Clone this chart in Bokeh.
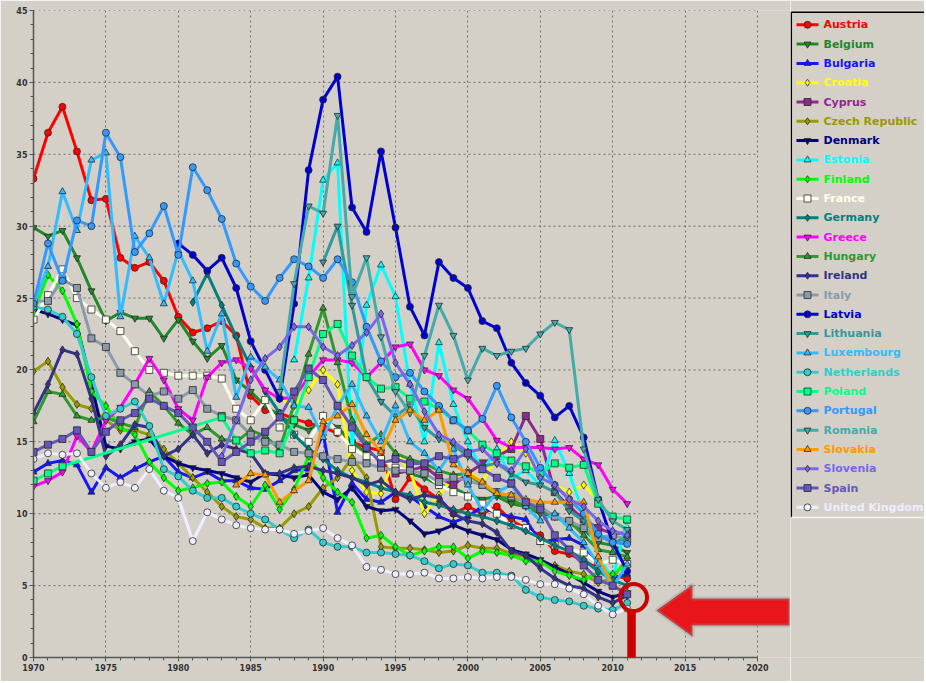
from bokeh.plotting import figure
from bokeh.models import (Range1d, SingleIntervalTicker, ColumnDataSource,
                          PolyAnnotation, Label)
from bokeh.layouts import row
from bokeh.core.properties import value
from bokeh.embed import file_html
from bokeh.resources import INLINE

FULL = list(range(1970, 2012))

austria = [33.3, 36.5, 38.3, 35.2, 31.8, 31.9, 27.8, 27.1, 27.5, 26.2,
           23.7, 22.6, 22.9, 23.4, 22.4, 18.2, 17.2, 17.0, 16.6, 16.3,
           16.0, 15.6, 15.0, 14.6, 14.4, 11.0, 12.5, 11.7, 11.0, 10.0,
           10.5, 10.0, 10.5, 9.5, 9.0, 8.5, 7.4, 7.2, 6.7, 6.2, 5.7, 5.5]
belgium = [29.9, 29.3, 29.7, 27.8, 25.5, 23.4, 24.0, 23.6, 23.6, 22.2,
           23.5, 22.0, 20.8, 21.7, 19.3, 18.5, 17.5, 16.8, 16.2, 15.8,
           16.5, 16.0, 15.0, 14.2, 13.8, 13.2, 12.8, 12.5, 12.0, 11.8,
           11.3, 11.0, 11.2, 10.7, 10.5, 10.0, 9.8, 9.3, 8.9, 8.0, 7.8, 7.3]
bulgaria = [12.9, 13.5, 13.7, 13.4, 11.5, 13.2, 12.5, 13.1, 13.6, 14.0,
            12.9, 12.5, 12.9, 12.3, 12.3, 11.8, 11.7, 12.3, 13.0, 13.1,
            15.6, 10.1, 12.1, 11.0, 10.8, 11.5, 11.2, 10.5, 9.8, 9.4,
            9.8, 10.5, 10.0, 9.8, 9.6, 8.0, 8.2, 8.3, 7.8, 6.5, 5.5, 5.8]
croatia_years = list(range(1987, 2012))
croatia = [18.0, 17.5, 18.6, 20.0, 19.0, 13.0, 11.5, 11.4, 14.2, 13.0,
           10.0, 11.3, 12.5, 13.0, 12.2, 14.0, 15.0, 14.2, 12.5, 12.0,
           11.5, 12.0, 11.0, 9.5, 9.0]
cyprus_years = list(range(1995, 2012))
cyprus = [12.8, 13.0, 13.3, 12.5, 12.0, 12.8, 13.5, 14.0, 14.5, 16.8,
          15.2, 11.5, 10.5, 9.6, 9.0, 8.6, 8.7]
czech = [19.9, 20.6, 18.8, 17.6, 17.3, 16.5, 15.8, 15.8, 15.5, 14.5,
         13.5, 12.5, 11.5, 10.5, 9.8, 9.6, 9.0, 9.0, 10.0, 10.5,
         11.8, 12.5, 13.9, 12.5, 7.7, 7.6, 7.6, 7.5, 7.3, 7.4,
         7.8, 7.6, 7.6, 7.2, 7.0, 6.5, 6.4, 6.0, 5.8, 5.2, 5.5, 6.9]
denmark = [24.2, 23.9, 23.5, 23.1, 19.0, 14.7, 14.5, 15.0, 15.2, 14.0,
           13.5, 13.2, 13.0, 12.8, 12.5, 12.2, 12.8, 12.7, 12.5, 12.7,
           11.5, 11.0, 11.8, 10.5, 10.2, 10.3, 9.5, 8.6, 8.8, 9.2,
           8.8, 8.5, 8.2, 7.5, 7.2, 6.8, 6.3, 5.8, 5.2, 4.6, 4.2, 4.5]
estonia_years = list(range(1988, 2012))
estonia = [20.7, 26.4, 33.2, 34.4, 14.5, 24.5, 27.3, 25.1, 19.0, 15.0,
           21.9, 17.6, 15.0, 13.0, 14.5, 12.5, 13.0, 12.0, 15.1, 12.8,
           10.0, 7.0, 5.5, 9.5]
finland = [24.0, 26.6, 25.5, 23.2, 18.5, 17.5, 16.0, 15.5, 13.6, 12.5,
           11.6, 11.8, 12.1, 12.2, 11.2, 10.5, 12.0, 10.3, 11.7, 14.0,
           12.5, 11.5, 10.8, 8.3, 8.5, 7.7, 7.1, 7.4, 7.7, 7.7,
           6.9, 7.4, 7.3, 7.1, 6.7, 6.7, 6.0, 5.7, 5.4, 5.9, 5.8, 6.5]
france = [23.5, 25.2, 27.0, 25.0, 24.2, 23.5, 22.7, 21.3, 20.0, 19.8,
          19.6, 19.6, 19.6, 19.4, 17.3, 16.5, 17.9, 16.0, 15.5, 15.0,
          16.8, 15.7, 14.5, 14.0, 13.8, 13.2, 13.0, 12.8, 12.0, 11.5,
          11.2, 10.7, 10.0, 9.2, 9.0, 8.1, 7.8, 7.5, 7.3, 6.5, 6.8, 6.5]
germany_years = list(range(1981, 2012))
germany = [24.7, 26.7, 24.5, 22.3, 20.2, 18.5, 17.0, 15.5, 14.5, 13.8,
           13.0, 12.5, 12.2, 11.8, 11.5, 11.3, 10.8, 10.6, 10.3, 10.0,
           9.8, 9.5, 9.2, 8.8, 8.3, 7.8, 7.4, 6.8, 6.0, 5.4, 5.0]
greece = [11.9, 12.3, 12.9, 15.4, 14.3, 16.5, 17.4, 19.0, 20.8, 19.3,
          17.3, 16.5, 19.5, 20.5, 20.7, 20.1, 18.6, 18.0, 18.1, 19.5,
          20.7, 20.7, 20.5, 19.5, 20.5, 21.6, 21.8, 20.0, 19.6, 18.6,
          18.0, 16.6, 15.1, 14.6, 14.6, 14.6, 14.5, 14.6, 13.8, 13.4, 11.7, 10.7]
hungary = [16.4, 18.5, 18.3, 16.8, 16.5, 16.7, 16.3, 16.0, 18.5, 17.5,
           16.3, 15.5, 16.0, 15.2, 15.0, 15.8, 15.4, 14.5, 17.6, 21.1,
           24.3, 20.5, 16.5, 14.8, 15.5, 14.2, 13.8, 13.5, 13.0, 12.7,
           12.8, 12.0, 11.3, 11.0, 10.5, 10.2, 9.8, 9.5, 8.5, 7.5, 7.3, 7.0]
ireland = [17.0, 19.0, 21.4, 21.1, 18.0, 14.0, 14.8, 16.2, 16.0, 14.0,
           14.5, 15.5, 14.2, 14.8, 14.5, 14.2, 12.8, 12.8, 13.2, 13.3,
           13.0, 12.8, 12.5, 12.0, 12.3, 11.5, 11.0, 11.3, 11.1, 10.0,
           9.5, 9.3, 8.7, 7.4, 7.1, 6.2, 5.5, 5.0, 4.8, 4.2, 3.8, 4.3]
italy = [24.8, 24.8, 26.3, 25.7, 22.2, 21.6, 19.8, 19.0, 18.2, 18.5,
         18.0, 18.6, 17.3, 16.8, 16.5, 15.5, 15.0, 14.8, 14.3, 14.2,
         14.0, 13.8, 13.6, 13.5, 13.2, 13.0, 13.0, 12.8, 12.2, 12.5,
         12.3, 12.0, 11.5, 11.2, 10.8, 10.5, 9.8, 9.5, 9.0, 8.3, 8.5, 8.2]
latvia_years = list(range(1980, 2012))
latvia = [28.8, 28.0, 26.9, 27.8, 25.7, 22.0, 20.0, 18.0, 24.6, 33.9,
          38.8, 40.4, 31.3, 29.6, 35.2, 29.9, 24.4, 22.4, 27.5, 26.4,
          25.7, 23.4, 22.9, 20.5, 19.1, 18.2, 16.7, 17.5, 15.3, 11.0, 8.0, 6.0]
lithuania_years = list(range(1990, 2012))
lithuania = [27.5, 30.0, 24.5, 19.5, 17.8, 16.8, 17.5, 16.0, 15.2, 14.8,
             14.0, 13.3, 13.5, 12.8, 12.2, 12.0, 11.5, 10.2, 9.5, 8.5, 8.0, 8.3]
luxembourg = [24.5, 27.2, 32.4, 29.7, 34.6, 35.1, 23.7, 29.3, 27.8, 24.6,
              28.3, 26.2, 21.3, 23.9, 18.1, 20.9, 20.2, 19.3, 17.5, 17.4,
              15.3, 17.5, 19.0, 16.8, 15.0, 17.5, 15.0, 14.2, 13.0, 14.5,
              12.0, 10.2, 11.5, 12.0, 10.5, 9.5, 10.0, 9.0, 8.0, 6.5, 4.9, 6.5]
netherlands = [24.4, 24.2, 23.7, 22.5, 19.5, 16.8, 17.3, 17.8, 16.1, 13.1,
               12.6, 11.6, 11.1, 11.1, 10.5, 10.0, 9.6, 8.9, 8.3, 8.9,
               8.0, 7.7, 7.7, 7.3, 7.3, 7.2, 7.1, 6.7, 6.2, 6.5,
               6.4, 5.9, 5.9, 5.7, 4.7, 4.2, 4.0, 3.9, 3.6, 3.4, 3.3, 3.8]
poland_years = [1970, 1971, 1972] + list(range(1983, 2012))
poland = [12.3, 12.8, 13.3,
          16.7, 15.1, 14.2, 14.4, 14.2, 16.5, 19.5,
          22.5, 23.2, 21.0, 19.5, 18.7, 18.8, 18.0, 17.8, 17.3, 16.5,
          15.8, 14.8, 14.2, 13.7, 13.3, 12.8, 13.5, 13.2, 13.4, 10.7, 9.8, 9.6]
portugal = [24.6, 28.8, 26.2, 30.4, 30.0, 36.5, 34.8, 28.2, 29.5, 31.4,
            28.0, 34.1, 32.5, 30.5, 27.4, 25.8, 24.8, 26.4, 27.7, 27.2,
            26.4, 27.7, 26.1, 23.0, 20.6, 19.5, 19.8, 18.5, 17.5, 16.5,
            15.8, 16.6, 18.9, 16.7, 15.0, 13.2, 12.0, 11.0, 10.0, 8.6, 8.0, 7.9]
romania_years = list(range(1987, 2012))
romania = [18.5, 26.0, 31.4, 30.9, 37.7, 25.1, 27.8, 22.3, 18.5, 17.0,
           21.0, 24.5, 22.4, 19.3, 21.5, 21.0, 21.3, 21.5, 22.5, 23.3,
           22.8, 14.5, 11.0, 9.5, 8.9]
slovakia_years = list(range(1984, 2012))
slovakia = [12.0, 12.8, 12.7, 10.8, 11.6, 12.3, 16.4, 16.8, 17.6, 15.5,
            14.3, 16.5, 17.2, 16.5, 17.2, 13.4, 12.8, 12.2, 11.4, 11.3,
            11.0, 10.8, 10.8, 10.8, 10.8, 7.0, 5.0, 4.5]
slovenia_years = list(range(1983, 2012))
slovenia = [14.0, 16.5, 19.3, 20.8, 21.6, 23.0, 23.0, 21.6, 21.0, 21.7,
            22.6, 23.9, 20.5, 19.0, 17.1, 15.5, 15.0, 14.3, 14.5, 13.5,
            13.0, 14.5, 12.5, 12.0, 11.0, 10.5, 9.5, 8.8, 8.5]
spain = [14.3, 14.8, 15.2, 15.8, 14.3, 15.7, 16.5, 17.0, 18.0, 17.5,
         17.0, 16.0, 15.0, 13.6, 14.3, 15.0, 15.7, 16.7, 18.5, 20.1,
         19.3, 17.5, 16.0, 14.6, 13.5, 13.8, 13.5, 13.5, 14.0, 13.8,
         14.2, 13.1, 12.5, 12.1, 10.8, 10.3, 8.5, 7.5, 6.4, 5.4, 5.0, 4.4]
uk = [13.8, 14.2, 14.1, 14.2, 12.8, 11.8, 12.2, 11.8, 13.1, 11.6,
      11.1, 8.1, 10.1, 9.6, 9.2, 9.0, 8.9, 8.9, 8.6, 8.8,
      9.0, 8.3, 7.8, 6.3, 6.1, 5.8, 5.8, 5.9, 5.5, 5.5,
      5.6, 5.5, 5.6, 5.6, 5.4, 5.1, 5.1, 4.8, 4.4, 3.6, 3.0, 3.4]

names = ["Austria", "Belgium", "Bulgaria", "Croatia", "Cyprus", "Czech Republic",
         "Denmark", "Estonia", "Finland", "France", "Germany", "Greece", "Hungary",
         "Ireland", "Italy", "Latvia", "Lithuania", "Luxembourg", "Netherlands",
         "Poland", "Portugal", "Romania", "Slovakia", "Slovenia", "Spain",
         "United Kingdom"]
colors = ["#ff0000", "#22882a", "#1515ff", "#ffff00", "#8e2a8e", "#999900",
          "#000080", "#00ffff", "#00ff00", "#fffff0", "#008080", "#ff00ff", "#2e9a2e",
          "#333388", "#8a9aaa", "#0000d0", "#339999", "#33bbff", "#33cccc",
          "#00ff88", "#3399ff", "#44aaaa", "#ff9900", "#7766ee", "#6655bb",
          "#eeeeff"]
markers = ["circle", "inverted_triangle", "triangle", "diamond", "square", "diamond",
           "inverted_triangle", "triangle", "diamond", "square", "diamond",
           "inverted_triangle", "triangle", "diamond", "square", "circle",
           "inverted_triangle", "triangle", "circle", "square", "circle",
           "inverted_triangle", "triangle", "diamond", "square", "circle"]
series_years = [FULL, FULL, FULL, croatia_years, cyprus_years, FULL, FULL,
                estonia_years, FULL, FULL, germany_years, FULL, FULL, FULL, FULL,
                latvia_years, lithuania_years, FULL, FULL, poland_years, FULL,
                romania_years, slovakia_years, slovenia_years, FULL, FULL]
series_vals = [austria, belgium, bulgaria, croatia, cyprus, czech, denmark,
               estonia, finland, france, germany, greece, hungary, ireland, italy,
               latvia, lithuania, luxembourg, netherlands, poland, portugal,
               romania, slovakia, slovenia, spain, uk]

X_MIN, X_MAX, X_PAD = 1970, 2020, 2022.28
Y_MIN, Y_MAX = 0, 45
BG = "#d4d0c8"

p = figure(width=790, height=681, x_range=Range1d(X_MIN, X_PAD), y_range=Range1d(Y_MIN, Y_MAX),
           output_backend="svg", toolbar_location=None,
           min_border_left=33, min_border_right=0, min_border_top=10, min_border_bottom=24)
p.background_fill_color = BG
p.border_fill_color = BG
p.outline_line_color = None

p.xaxis.ticker = SingleIntervalTicker(interval=5, num_minor_ticks=5)
p.yaxis.ticker = SingleIntervalTicker(interval=5, num_minor_ticks=5)
p.xaxis.bounds = (X_MIN, X_MAX)
for ax in (p.xaxis, p.yaxis):
    ax.axis_line_color = "#555555"
    ax.axis_line_width = 1.5
    ax.major_tick_line_color = "#555555"
    ax.minor_tick_line_color = "#555555"
    ax.major_tick_in = 0
    ax.major_tick_out = 4
    ax.minor_tick_in = 0
    ax.minor_tick_out = 3
    ax.major_label_text_font = "DejaVu Sans"
    ax.major_label_text_font_style = "bold"
    ax.major_label_text_font_size = "8px"
    ax.major_label_text_color = "#333333"
    ax.major_label_standoff = 2
p.xgrid.grid_line_color = "#555555"
p.xgrid.grid_line_dash = "2 3"
p.xgrid.grid_line_alpha = 0.8
p.ygrid.visible = False
grid_levels = list(range(5, 50, 5))
p.segment(x0=[X_MIN] * len(grid_levels), y0=grid_levels,
          x1=[X_MAX] * len(grid_levels), y1=grid_levels,
          line_color="#555555", line_dash="2 3", line_alpha=0.8, line_width=1)

for yrs, vals, col, mk in zip(series_years, series_vals, colors, markers):
    src = ColumnDataSource(dict(x=yrs, y=vals))
    p.line("x", "y", source=src, line_color=col, line_width=3)
    p.scatter("x", "y", source=src, marker=mk, size=7 if mk != "diamond" else 8,
              fill_color=col, line_color="#2a2a2a", line_width=0.8)

# annotation: circle, bar, arrow
ANN_X, ANN_Y = 2011.44, 4.17
p.scatter([ANN_X], [ANN_Y], marker="circle", size=27, fill_alpha=0,
          line_color="#cc0000", line_width=4)
p.add_layout(Label(x=2011.3, y=3.2, text=" ", text_font_size="2px",
                   text_align="center", text_baseline="top",
                   background_fill_color="#cc0000", background_fill_alpha=1,
                   border_line_alpha=0,
                   padding=dict(left=4, right=4, top=0, bottom=80)))
arrow_x = [2013.02, 2015.51, 2015.51, 2022.21, 2022.21, 2015.51, 2015.51]
arrow_y = [3.27, 5.08, 4.10, 4.10, 2.23, 2.23, 1.46]
p.add_layout(PolyAnnotation(xs=arrow_x, ys=arrow_y, fill_color="#e8161b", fill_alpha=1,
                            line_color="#7d9999", line_width=4))

# legend panel (its frame is aligned with the main frame: rows 10..657 px)
n = len(names)
leg = figure(width=134, height=681, x_range=Range1d(0, 134),
             y_range=Range1d(32.78, -0.741), output_backend="svg",
             toolbar_location=None, min_border=0,
             x_axis_location=None, y_axis_location=None)
leg.background_fill_color = BG
leg.border_fill_color = BG
leg.outline_line_color = None
leg.grid.visible = False
idx = list(range(n))
lsrc = ColumnDataSource(dict(i=idx, name=names, color=colors, marker=markers,
                             x0=[6] * n, x1=[28] * n, xm=[17] * n, xt=[33] * n))
leg.segment(x0=[0.8], y0=[-0.653], x1=[0.8], y1=[25.53], line_color="black", line_width=1.5)
leg.segment(x0=[0.8], y0=[-0.653], x1=[134], y1=[-0.653], line_color="black", line_width=1.5)
leg.segment(x0=[0.8], y0=[25.53], x1=[134], y1=[25.53], line_color="#f4f4f4", line_width=1.5)
leg.segment(x0="x0", y0="i", x1="x1", y1="i", source=lsrc, line_color="color", line_width=3)
leg.scatter(x="xm", y="i", marker="marker", source=lsrc, size=7, fill_color="color",
            line_color="#2a2a2a", line_width=0.8)
leg.text(x="xt", y="i", text="name", source=lsrc, text_color="color",
         text_font=value("DejaVu Sans"), text_font_style="bold", text_font_size="11px",
         text_baseline="middle")

layout = row(p, leg, spacing=0)
open("out.html", "w").write(file_html(layout, INLINE))
